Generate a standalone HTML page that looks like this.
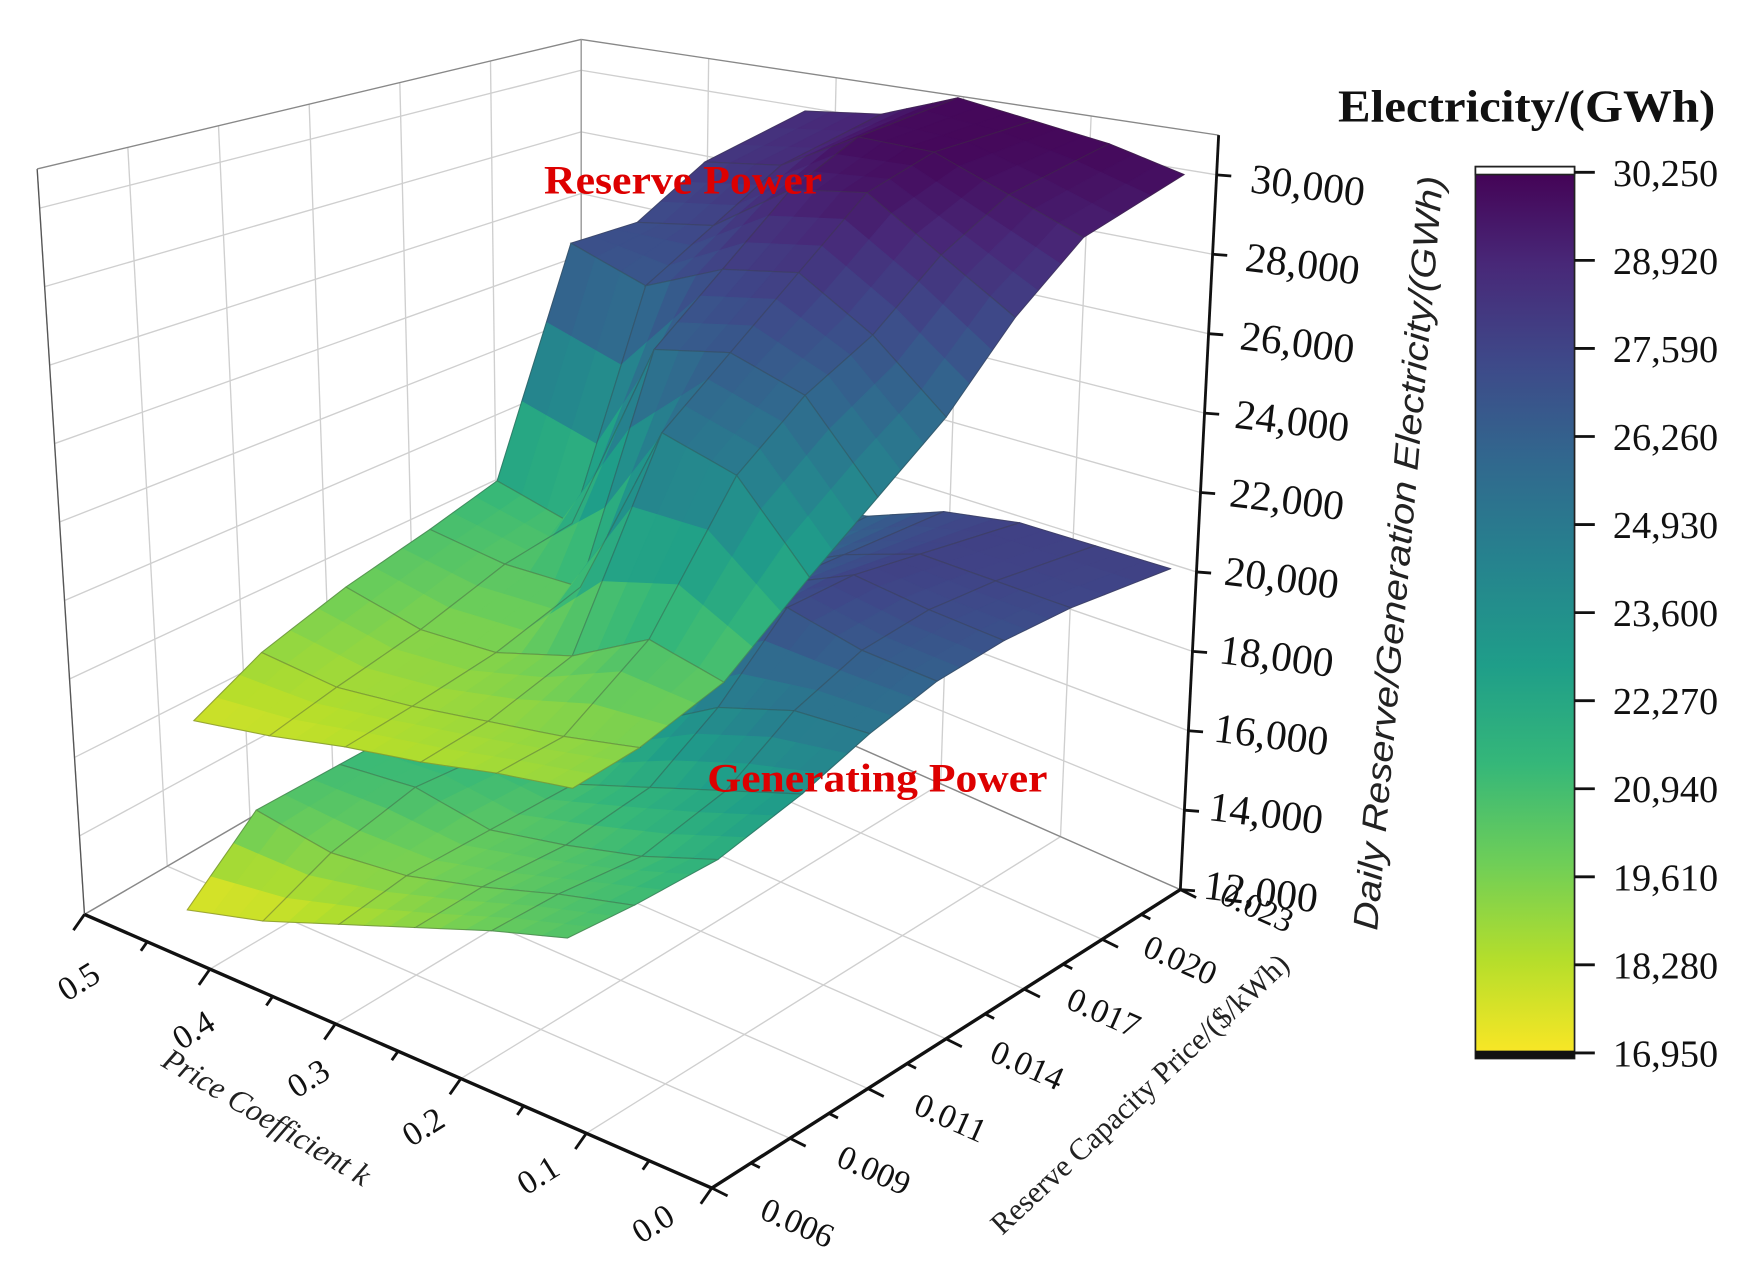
<!DOCTYPE html>
<html><head><meta charset="utf-8"><title>Daily Reserve/Generation Electricity surface</title>
<style>
html,body{margin:0;padding:0;background:#fff;}
svg{display:block;}
</style></head>
<body>
<svg id="chart" xmlns="http://www.w3.org/2000/svg" viewBox="0 0 1560 1134" width="1757" height="1277" preserveAspectRatio="none">
<defs>
<linearGradient id="cbgrad" x1="0" y1="0" x2="0" y2="1">
<stop offset="0" stop-color="#440154"/><stop offset="0.11" stop-color="#482878"/><stop offset="0.22" stop-color="#3e4989"/><stop offset="0.33" stop-color="#31688e"/><stop offset="0.44" stop-color="#26828e"/><stop offset="0.56" stop-color="#1f9e89"/><stop offset="0.67" stop-color="#35b779"/><stop offset="0.78" stop-color="#6ece58"/><stop offset="0.89" stop-color="#b5de2b"/><stop offset="1" stop-color="#fde725"/>
</linearGradient>
</defs>
<g id="walls"></g>
<g id="surfaces"></g>
<g id="axes"></g>
<text x="483" y="172" font-family="Liberation Serif, serif" font-weight="bold" font-size="36" fill="#dd0000" textLength="247" lengthAdjust="spacingAndGlyphs">Reserve Power</text>
<text x="628" y="703" font-family="Liberation Serif, serif" font-weight="bold" font-size="36" fill="#dd0000" textLength="302" lengthAdjust="spacingAndGlyphs">Generating Power</text>
<text transform="translate(1252,492) rotate(-85)" text-anchor="middle" font-family="Liberation Sans, sans-serif" font-style="italic" font-size="31" fill="#222" textLength="672" lengthAdjust="spacingAndGlyphs">Daily Reserve/Generation Electricity/(GWh)</text>
<text transform="translate(232,1000) rotate(31)" text-anchor="middle" font-family="Liberation Serif, serif" font-style="italic" font-size="28" fill="#222">Price Coefficient k</text>
<text transform="translate(1018,978) rotate(-43)" text-anchor="middle" font-family="Liberation Serif, serif" font-size="27" fill="#222">Reserve Capacity Price/($/kWh)</text>
<g id="colorbar">
<text x="1188" y="108" font-family="Liberation Serif, serif" font-weight="bold" font-size="40" fill="#111" textLength="335" lengthAdjust="spacingAndGlyphs">Electricity/(GWh)</text>
<rect x="1310" y="148" width="88" height="792" fill="url(#cbgrad)" stroke="#222" stroke-width="1.5"/>
<rect x="1310" y="148" width="88" height="7" fill="#fff" stroke="#222" stroke-width="1.5"/>
<rect x="1310" y="933" width="88" height="7" fill="#111"/>
</g>
</svg>
<script>
// ---- data ----
const coefTicks = [0.0, 0.1, 0.2, 0.3, 0.4, 0.5];
const coefTickLabels = ['0.0', '0.1', '0.2', '0.3', '0.4', '0.5'];
const priceTicks = [0.006, 0.009, 0.011, 0.014, 0.017, 0.020, 0.023];
const priceTickLabels = ['0.006', '0.009', '0.011', '0.014', '0.017', '0.020', '0.023'];
const zTicks = [12000, 14000, 16000, 18000, 20000, 22000, 24000, 26000, 28000, 30000];
const zTickLabels = ['12,000', '14,000', '16,000', '18,000', '20,000', '22,000', '24,000', '26,000', '28,000', '30,000'];
const cbTicks = [16950, 18280, 19610, 20940, 22270, 23600, 24930, 26260, 27590, 28920, 30250];
const cbTickLabels = ['16,950', '18,280', '19,610', '20,940', '22,270', '23,600', '24,930', '26,260', '27,590', '28,920', '30,250'];
const coefGrid = [0.0, 0.1, 0.2, 0.3, 0.4, 0.5];
const priceGrid = [0.006, 0.008, 0.010, 0.012, 0.014, 0.016, 0.018, 0.020, 0.023];
// rows: coefficient 0.0 .. 0.5 ; columns: priceGrid
const reserveRow0 = [19000, 19500, 20500, 22500, 24000, 25500, 27500, 29000, 29800];
const reserveRow1 = [18800, 19200, 21000, 24500, 26000, 27000, 28500, 29500, 30000];
const reserveRow2 = [18500, 19000, 20000, 25000, 26500, 28000, 29500, 30000, 30000];
const reserveRow3 = [18300, 18800, 19500, 20500, 26000, 27500, 29000, 29800, 30000];
const reserveRow4 = [18000, 18700, 19500, 20500, 21000, 26500, 27500, 28500, 29000];
const reserveRow5 = [17800, 19000, 20000, 20800, 21500, 27000, 27000, 28000, 28500];
const genRow0 = [15200, 15500, 16000, 17000, 18000, 18800, 19300, 19600, 19800];
const genRow1 = [14800, 15200, 15500, 16500, 18000, 19000, 19500, 19700, 19800];
const genRow2 = [14300, 14800, 15200, 16000, 17500, 19500, 19800, 19800, 19800];
const genRow3 = [13800, 14500, 15000, 15500, 16500, 18500, 19000, 19200, 19500];
const genRow4 = [13300, 14500, 15500, 15800, 16200, 17000, 17800, 18300, 18800];
const genRow5 = [13000, 15000, 15500, 16000, 16500, 17000, 17500, 18000, 18500];
const reserveRows = [reserveRow0, reserveRow1, reserveRow2, reserveRow3, reserveRow4, reserveRow5];
const genRows = [genRow0, genRow1, genRow2, genRow3, genRow4, genRow5];

// ---- scales ----
const NS = 'http://www.w3.org/2000/svg';
const Z0 = 12000, Z1 = 31000;
const coefFrac = c => c / 0.5;
function priceFrac(p) {
  for (let i = 0; i < priceTicks.length - 1; i++) {
    if (p <= priceTicks[i + 1] || i === priceTicks.length - 2) {
      const f = (p - priceTicks[i]) / (priceTicks[i + 1] - priceTicks[i]);
      return (i + f) / (priceTicks.length - 1);
    }
  }
  return 0;
}
const F = [632, 1055], L = [75, 812], R = [1048, 790], B = [516, 555];
const Ft = [599, 235], Lt = [33, 150], Rt = [1082, 120], Bt = [516, 35];
function bil(p00, p10, p01, p11, a, b) {
  return [0, 1].map(k => (1 - a) * (1 - b) * p00[k] + a * (1 - b) * p10[k] + (1 - a) * b * p01[k] + a * b * p11[k]);
}
function box(a, b, z) {
  const t = (z - Z0) / (Z1 - Z0);
  const f = bil(F, L, R, B, a, b), u = bil(Ft, Lt, Rt, Bt, a, b);
  return [f[0] + (u[0] - f[0]) * t, f[1] + (u[1] - f[1]) * t];
}
function surf(a, b, z) {
  return [500 - 335 * a + 530 * b + (z - Z0) * 0.0012, 945 - 102 * a - 167 * b - (z - Z0) * 0.035];
}
const vir = ['#440154', '#482878', '#3e4989', '#31688e', '#26828e', '#1f9e89', '#35b779', '#6ece58', '#b5de2b', '#fde725'];
function hex(h) { return [1, 3, 5].map(i => parseInt(h.substr(i, 2), 16)); }
function viridis(t) {
  t = Math.max(0, Math.min(1, t));
  const x = t * (vir.length - 1), i = Math.min(vir.length - 2, Math.floor(x)), f = x - i;
  const c0 = hex(vir[i]), c1 = hex(vir[i + 1]);
  return 'rgb(' + c0.map((v, k) => Math.round(v + (c1[k] - v) * f)).join(',') + ')';
}
function el(tag, attrs, parent) {
  const e = document.createElementNS(NS, tag);
  for (const k in attrs) e.setAttribute(k, attrs[k]);
  parent.appendChild(e);
  return e;
}
const pts = arr => arr.map(p => p[0].toFixed(1) + ',' + p[1].toFixed(1)).join(' ');

// ---- walls & floor grid ----
const walls = document.getElementById('walls');
const grey = '#cfcfcf';
function gline(p, q, name, col, w) {
  const ln = el('line', {x1: p[0], y1: p[1], x2: q[0], y2: q[1], stroke: col || grey, 'stroke-width': w || 1.2}, walls);
  
  
}
priceTicks.forEach(p => {
  const b = priceFrac(p);
  gline(box(1, b, Z0), box(1, b, Z1), 'left-wall-gridline');
  gline(box(0, b, Z0), box(1, b, Z0), 'floor-gridline');
});
coefTicks.forEach(c => {
  const a = coefFrac(c);
  gline(box(a, 1, Z0), box(a, 1, Z1), 'back-wall-gridline');
  gline(box(a, 0, Z0), box(a, 1, Z0), 'floor-gridline');
});
zTicks.forEach(z => {
  gline(box(1, 0, z), box(1, 1, z), 'left-wall-gridline');
  gline(box(1, 1, z), box(0, 1, z), 'back-wall-gridline');
});
gline(box(1, 0, Z0), box(1, 0, Z1), 'left-wall-edge', '#555', 1.2);
gline(box(1, 0, Z1), box(1, 1, Z1), 'top-edge', '#888', 1.2);
gline(box(1, 1, Z1), box(0, 1, Z1), 'top-edge', '#888', 1.2);
gline(box(1, 1, Z0), box(1, 1, Z1), 'back-edge', '#999', 1.2);
gline(box(1, 0, Z0), box(1, 1, Z0), 'floor-edge', '#888', 1.2);
gline(box(1, 1, Z0), box(0, 1, Z0), 'floor-edge', '#888', 1.2);

// ---- surfaces ----
const sg = document.getElementById('surfaces');
function drawSurface(rows, zmin, zmax, name) {
  const g = el('g', {}, sg);
  
  
  const cells = [];
  for (let i = 0; i < coefGrid.length - 1; i++) {
    for (let j = 0; j < priceGrid.length - 1; j++) {
      const a0 = coefFrac(coefGrid[i]), a1 = coefFrac(coefGrid[i + 1]);
      const b0 = priceFrac(priceGrid[j]), b1 = priceFrac(priceGrid[j + 1]);
      cells.push({i, j, a0, a1, b0, b1, d: (a0 + a1 + b0 + b1) / 2});
    }
  }
  cells.sort((p, q) => q.d - p.d);
  const S = 3;
  cells.forEach(c => {
    const z00 = rows[c.i][c.j], z10 = rows[c.i + 1][c.j], z01 = rows[c.i][c.j + 1], z11 = rows[c.i + 1][c.j + 1];
    const zAt = (u, v) => (1 - u) * (1 - v) * z00 + u * (1 - v) * z10 + (1 - u) * v * z01 + u * v * z11;
    const P = (u, v) => surf(c.a0 + (c.a1 - c.a0) * u, c.b0 + (c.b1 - c.b0) * v, zAt(u, v));
    const subs = [];
    for (let su = 0; su < S; su++) for (let sv = 0; sv < S; sv++) subs.push([su, sv]);
    subs.sort((p, q) => (q[0] + q[1]) - (p[0] + p[1]));
    subs.forEach(s => {
      const u0 = s[0] / S, u1 = (s[0] + 1) / S, v0 = s[1] / S, v1 = (s[1] + 1) / S;
      const zm = zAt((u0 + u1) / 2, (v0 + v1) / 2);
      const col = viridis((zm - zmin) / (zmax - zmin));
      const poly = el('polygon', {points: pts([P(u0, v0), P(u1, v0), P(u1, v1), P(u0, v1)]), fill: col, stroke: col, 'stroke-width': 0.8, 'stroke-linejoin': 'round'}, g);
      
      
    });
    const outline = [];
    for (let k = 0; k <= S; k++) outline.push(P(k / S, 0));
    for (let k = 1; k <= S; k++) outline.push(P(1, k / S));
    for (let k = S - 1; k >= 0; k--) outline.push(P(k / S, 1));
    for (let k = S - 1; k > 0; k--) outline.push(P(0, k / S));
    const o = el('polygon', {points: pts(outline), fill: 'none', stroke: 'rgba(60,60,60,0.35)', 'stroke-width': 1}, g);
    
    
  });
}
drawSurface(genRows, 21500, 12800, 'generating-power-surface');
drawSurface(reserveRows, 30250, 16950, 'reserve-power-surface');

// ---- axes ----
const ax = document.getElementById('axes');
function aline(p, q, name, w) {
  const ln = el('line', {x1: p[0], y1: p[1], x2: q[0], y2: q[1], stroke: '#111', 'stroke-width': w || 2.5}, ax);
  
  
}
function atext(x, y, rot, str, name, size, anchor) {
  const t = el('text', {transform: 'translate(' + x.toFixed(1) + ',' + y.toFixed(1) + ') rotate(' + rot + ')', 'text-anchor': anchor || 'middle', 'font-family': 'Liberation Serif, serif', 'font-size': size, fill: '#111'}, ax);
  t.textContent = str;
  
  
}
aline(box(0, 0, Z0), box(1, 0, Z0), 'x-axis-line', 3);
aline(box(0, 0, Z0), box(0, 1, Z0), 'y-axis-line', 3);
aline(box(0, 1, Z0), box(0, 1, Z1), 'z-axis-line', 2.5);
for (let k = 0; k <= 10; k++) {
  const p = box(k / 10, 0, Z0);
  const len = k % 2 === 0 ? 1.4 : 0.8;
  aline(p, [p[0] - 7 * len, p[1] + 10 * len], 'x-tick', 2.5);
}
coefTicks.forEach((c, i) => {
  const f = coefFrac(c), p = box(f, 0, Z0);
  atext(p[0] - 47 + 47 * f, p[1] + 40 + 28 * f, -32, coefTickLabels[i], 'x-tick-label', 30);
});
for (let k = 0; k <= 12; k++) {
  const p = box(0, k / 12, Z0);
  const len = k % 2 === 0 ? 1.4 : 0.8;
  aline(p, [p[0] + 10 * len, p[1] + 5 * len], 'y-tick', 2.5);
}
priceTicks.forEach((p, i) => {
  const q = box(0, priceFrac(p), Z0);
  atext(q[0] + 72 - 8 * priceFrac(p), q[1] + 40 - 15 * priceFrac(p), 24, priceTickLabels[i], 'y-tick-label', 30);
});
zTicks.forEach((z, i) => {
  const p = box(0, 1, z);
  aline(p, [p[0] + 13, p[1] + 1], 'z-tick', 2.5);
  const t = (z - Z0) / (Z1 - Z0);
  atext(p[0] + 70 + 10 * t, p[1] + 14 + 8 * t, 7, zTickLabels[i], 'z-tick-label', 37);
});
const cb = document.getElementById('colorbar');
const cbY = v => 935 + (v - 16950) / (30250 - 16950) * (153 - 935);
cbTicks.forEach((v, i) => {
  const y = cbY(v);
  const tk = el('line', {x1: 1398, y1: y, x2: 1416, y2: y, stroke: '#111', 'stroke-width': 2.5}, cb);
  
  
  const t = el('text', {x: 1432, y: y + 12, 'font-family': 'Liberation Serif, serif', 'font-size': 34, fill: '#111'}, cb);
  t.textContent = cbTickLabels[i];
  
  
});
</script>
</body></html>
